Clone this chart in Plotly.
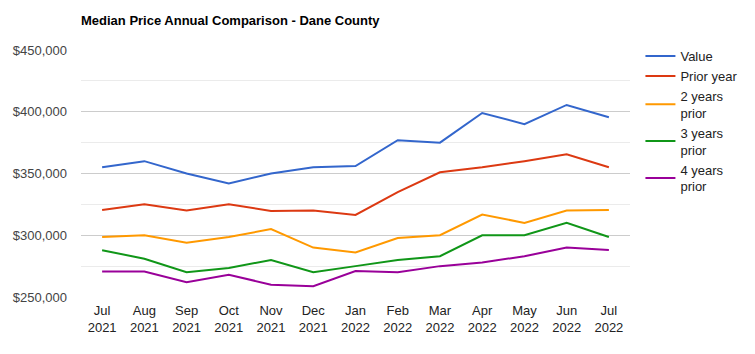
import plotly.graph_objects as go

months = ["Jul<br>2021", "Aug<br>2021", "Sep<br>2021", "Oct<br>2021", "Nov<br>2021", "Dec<br>2021",
          "Jan<br>2022", "Feb<br>2022", "Mar<br>2022", "Apr<br>2022", "May<br>2022", "Jun<br>2022", "Jul<br>2022"]

value = [355000, 360000, 350000, 342000, 350000, 355000, 356000, 377000, 375000, 399000, 390000, 405500, 395500]
prior_year = [320500, 325000, 320000, 325000, 319700, 320000, 316500, 335000, 351000, 355000, 360000, 365500, 355000]
two_years = [298600, 300000, 294000, 298600, 305000, 290000, 286000, 297800, 300000, 316800, 310000, 320000, 320500]
three_years = [287900, 281000, 270000, 273500, 280000, 270000, 275000, 280000, 283000, 300000, 300000, 310000, 298600]
four_years = [270600, 270600, 262000, 268000, 260000, 258700, 271000, 270000, 275000, 278000, 283000, 290000, 288000]

series = [
    ("Value", value, "#3366cc"),
    ("Prior year", prior_year, "#dc3912"),
    ("2 years<br>prior", two_years, "#ff9900"),
    ("3 years<br>prior", three_years, "#109618"),
    ("4 years<br>prior", four_years, "#990099"),
]

fig = go.Figure()
for name, ys, color in series:
    fig.add_trace(go.Scatter(x=months, y=ys, name=name, mode="lines",
                             line=dict(color=color, width=2)))

font_family = "Liberation Sans, Arial, sans-serif"
fig.update_layout(
    width=755, height=354,
    margin=dict(l=81, r=115, t=50, b=57),
    paper_bgcolor="white", plot_bgcolor="white",
    font=dict(family=font_family, size=13, color="#444444"),
    title=dict(text="<b>Median Price Annual Comparison - Dane County</b>",
               x=81/755, xanchor="left", y=1 - 20/354, yanchor="middle",
               font=dict(family=font_family, size=13, color="#000000")),
    showlegend=True,
    legend=dict(x=1.019, xanchor="left", y=1.036, yanchor="top",
                font=dict(family=font_family, size=13, color="#222222"),
                tracegroupgap=2, bgcolor="rgba(0,0,0,0)"),
    xaxis=dict(type="category", range=[-0.5, len(months) - 0.5], showgrid=False,
               zeroline=False, showline=False, ticks="", ticklabelstandoff=4,
               tickfont=dict(size=13, color="#222222")),
    yaxis=dict(range=[250000, 450000], dtick=50000, tickprefix="$", tickformat=",",
               showgrid=True, gridcolor="#cccccc", gridwidth=1, zeroline=False,
               showline=False, ticks="", ticklabelstandoff=13,
               tickfont=dict(size=13, color="#444444"),
               minor=dict(dtick=25000, showgrid=True, gridcolor="#ebebeb", gridwidth=1)),
)

fig.write_html("out.html")
